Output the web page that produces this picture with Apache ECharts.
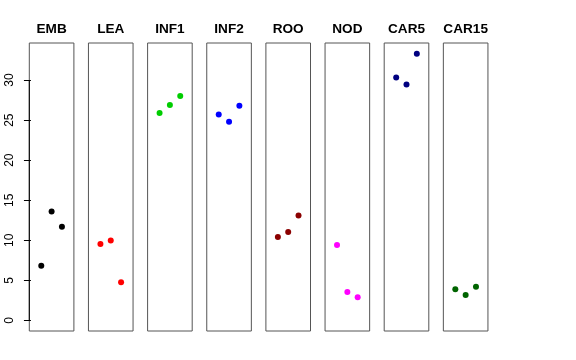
<!DOCTYPE html>
<html>
<head>
<meta charset="utf-8">
<script src="https://cdn.jsdelivr.net/npm/echarts@6/dist/echarts.min.js"></script>
<style>html,body{margin:0;padding:0;background:#fff;}#c{width:576px;height:360px;}</style>
</head>
<body>
<div id="c"></div>
<script>
const categories = ['EMB','LEA','INF1','INF2','ROO','NOD','CAR5','CAR15'];
const colors = ['#000000','#FF0000','#00CD00','#0000FF','#8B0000','#FF00FF','#000080','#006400'];
const EMB = [6.83, 13.58, 11.7];
const LEA = [9.54, 9.96, 4.75];
const INF1 = [25.9, 26.9, 28.0];
const INF2 = [25.7, 24.8, 26.8];
const ROO = [10.4, 11.04, 13.1];
const NOD = [9.42, 3.54, 2.88];
const CAR5 = [30.33, 29.46, 33.3];
const CAR15 = [3.88, 3.17, 4.2];
const seriesValues = [EMB, LEA, INF1, INF2, ROO, NOD, CAR5, CAR15];
const yTicks = [0, 5, 10, 15, 20, 25, 30];

const xMin = -0.16, xMax = 4.16, yMin = -1.33, yMax = 34.63;
const panelLeft0 = 29.3, panelStep = 59.15, panelW = 44.6, panelTop = 43, panelH = 288;
const font = '"Liberation Sans", Arial, Helvetica, sans-serif';

const grids = [], xAxes = [], yAxes = [], series = [], titles = [];
categories.forEach((cat, i) => {
  const left = panelLeft0 + i * panelStep;
  grids.push({left: left, top: panelTop, width: panelW, height: panelH,
    show: true, borderColor: '#555', borderWidth: 1, backgroundColor: 'transparent', containLabel: false});
  xAxes.push({type: 'value', gridIndex: i, min: xMin, max: xMax, show: false});
  yAxes.push({type: 'value', gridIndex: i, min: yMin, max: yMax,
    show: i === 0,
    splitLine: {show: false},
    axisLine: {show: false},
    axisTick: {show: true, length: 7, lineStyle: {color: '#000'}, customValues: yTicks},
    axisLabel: {show: true, rotate: 90, margin: 14, fontSize: 12, color: '#000', fontFamily: font, customValues: yTicks}
  });
  series.push({type: 'scatter', xAxisIndex: i, yAxisIndex: i, symbol: 'circle', symbolSize: 6,
    itemStyle: {color: colors[i], opacity: 1},
    data: seriesValues[i].map((v, k) => [k + 1, v]), silent: true, animation: false});
  titles.push({text: cat, left: left + panelW / 2, top: 22, textAlign: 'center', padding: 0,
    textStyle: {fontSize: 13.6, fontWeight: 'bold', color: '#000', fontFamily: font}});
});
// y axis line from first to last tick, along the left edge of the first panel
series.push({type: 'line', xAxisIndex: 0, yAxisIndex: 0, symbol: 'none', silent: true, animation: false,
  lineStyle: {color: '#000', width: 1},
  data: [[xMin, yTicks[0]], [xMin, yTicks[yTicks.length - 1]]]});

const chart = echarts.init(document.getElementById('c'), null, {renderer: 'canvas'});
chart.setOption({
  animation: false,
  backgroundColor: '#fff',
  title: titles,
  grid: grids,
  xAxis: xAxes,
  yAxis: yAxes,
  series: series
});
</script>
</body>
</html>
